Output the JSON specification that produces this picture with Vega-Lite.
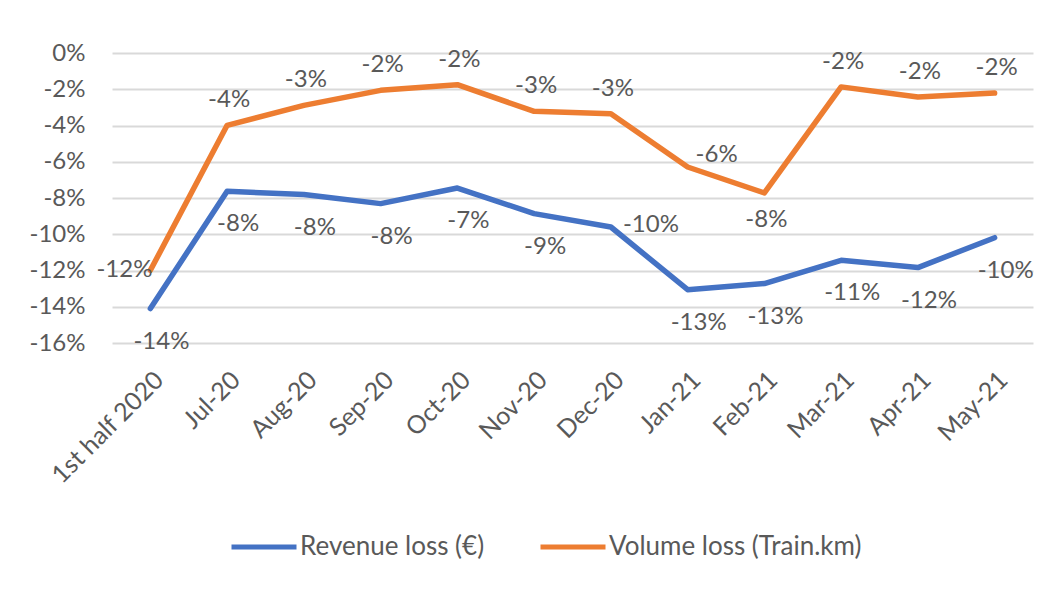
{
  "$schema": "https://vega.github.io/schema/vega-lite/v6.json",
  "autosize": {"type": "none"},
  "width": 921,
  "height": 290,
  "padding": {"left": 112, "top": 53, "right": 17, "bottom": 249},
  "background": "white",
  "config": {
    "font": "Lato",
    "locale": {"number": {"decimal": ".", "thousands": ",", "grouping": [3], "currency": ["", ""], "minus": "-"}},
    "view": {"stroke": null},
    "text": {"font": "Lato", "fontSize": 24, "color": "#595959"}
  },
  "data": {
    "values": [
      {"month": "1st half 2020", "series": "Revenue loss (€)", "value": -0.141},
      {"month": "Jul-20", "series": "Revenue loss (€)", "value": -0.0763},
      {"month": "Aug-20", "series": "Revenue loss (€)", "value": -0.0781},
      {"month": "Sep-20", "series": "Revenue loss (€)", "value": -0.0831},
      {"month": "Oct-20", "series": "Revenue loss (€)", "value": -0.0745},
      {"month": "Nov-20", "series": "Revenue loss (€)", "value": -0.0886},
      {"month": "Dec-20", "series": "Revenue loss (€)", "value": -0.096},
      {"month": "Jan-21", "series": "Revenue loss (€)", "value": -0.1306},
      {"month": "Feb-21", "series": "Revenue loss (€)", "value": -0.1272},
      {"month": "Mar-21", "series": "Revenue loss (€)", "value": -0.1144},
      {"month": "Apr-21", "series": "Revenue loss (€)", "value": -0.1184},
      {"month": "May-21", "series": "Revenue loss (€)", "value": -0.1019},
      {"month": "1st half 2020", "series": "Volume loss (Train.km)", "value": -0.1199},
      {"month": "Jul-20", "series": "Volume loss (Train.km)", "value": -0.0399},
      {"month": "Aug-20", "series": "Volume loss (Train.km)", "value": -0.0289},
      {"month": "Sep-20", "series": "Volume loss (Train.km)", "value": -0.0206},
      {"month": "Oct-20", "series": "Volume loss (Train.km)", "value": -0.0175},
      {"month": "Nov-20", "series": "Volume loss (Train.km)", "value": -0.0322},
      {"month": "Dec-20", "series": "Volume loss (Train.km)", "value": -0.0335},
      {"month": "Jan-21", "series": "Volume loss (Train.km)", "value": -0.0629},
      {"month": "Feb-21", "series": "Volume loss (Train.km)", "value": -0.0772},
      {"month": "Mar-21", "series": "Volume loss (Train.km)", "value": -0.0187},
      {"month": "Apr-21", "series": "Volume loss (Train.km)", "value": -0.0243},
      {"month": "May-21", "series": "Volume loss (Train.km)", "value": -0.0221}
    ]
  },
  "encoding": {
    "x": {
      "field": "month",
      "type": "ordinal",
      "sort": ["1st half 2020", "Jul-20", "Aug-20", "Sep-20", "Oct-20", "Nov-20", "Dec-20", "Jan-21", "Feb-21", "Mar-21", "Apr-21", "May-21"],
      "title": null,
      "axis": {
        "labelAngle": -45,
        "labelFontSize": 25,
        "labelColor": "#595959",
        "labelFont": "Lato",
        "ticks": false,
        "domain": false,
        "labelPadding": 24
      }
    },
    "y": {
      "field": "value",
      "type": "quantitative",
      "scale": {"domain": [-0.16, 0], "nice": false},
      "title": null,
      "axis": {
        "values": [-0.16, -0.14, -0.12, -0.1, -0.08, -0.06, -0.04, -0.02, 0],
        "format": ".0%",
        "labelFontSize": 24,
        "labelColor": "#595959",
        "labelFont": "Lato",
        "ticks": false,
        "domain": false,
        "labelPadding": 27,
        "gridColor": "#d9d9d9",
        "gridWidth": 2
      }
    }
  },
  "layer": [
    {
      "mark": {"type": "line", "strokeWidth": 5.5, "strokeJoin": "round", "strokeCap": "round"},
      "encoding": {
        "color": {
          "field": "series",
          "type": "nominal",
          "scale": {"domain": ["Revenue loss (€)", "Volume loss (Train.km)"], "range": ["#4472C4", "#ED7D31"]},
          "legend": {
            "title": null,
            "orient": "none",
            "direction": "horizontal",
            "legendX": 117,
            "legendY": 459,
            "symbolType": "stroke",
            "symbolSize": 4225,
            "symbolStrokeWidth": 5,
            "labelFontSize": 26,
            "labelColor": "#595959",
            "labelFont": "Lato",
            "labelOffset": 1,
            "labelLimit": 0,
            "columnPadding": 45
          }
        }
      }
    },
    {
      "transform": [{"filter": "datum.series == 'Volume loss (Train.km)' && indexof(['1st half 2020','Jan-21','Feb-21'], datum.month) < 0"}],
      "mark": {"type": "text", "dy": -25, "dx": 2, "baseline": "middle"},
      "encoding": {"text": {"field": "value", "type": "quantitative", "format": ".0%"}}
    },
    {
      "transform": [{"filter": "datum.series == 'Volume loss (Train.km)' && datum.month == '1st half 2020'"}],
      "mark": {"type": "text", "align": "right", "dx": 2, "dy": 0, "baseline": "middle"},
      "encoding": {"text": {"field": "value", "type": "quantitative", "format": ".0%"}}
    },
    {
      "transform": [{"filter": "datum.series == 'Volume loss (Train.km)' && datum.month == 'Jan-21'"}],
      "mark": {"type": "text", "dx": 29, "dy": -12, "baseline": "middle"},
      "encoding": {"text": {"field": "value", "type": "quantitative", "format": ".0%"}}
    },
    {
      "transform": [{"filter": "datum.series == 'Volume loss (Train.km)' && datum.month == 'Feb-21'"}],
      "mark": {"type": "text", "dx": 2, "dy": 27, "baseline": "middle"},
      "encoding": {"text": {"field": "value", "type": "quantitative", "format": ".0%"}}
    },
    {
      "transform": [{"filter": "datum.series == 'Revenue loss (€)' && datum.month != 'Dec-20'"}],
      "mark": {"type": "text", "dx": 11, "dy": 33, "baseline": "middle"},
      "encoding": {"text": {"field": "value", "type": "quantitative", "format": ".0%"}}
    },
    {
      "transform": [{"filter": "datum.series == 'Revenue loss (€)' && datum.month == 'Dec-20'"}],
      "mark": {"type": "text", "align": "left", "dx": 12, "dy": -2, "baseline": "middle"},
      "encoding": {"text": {"field": "value", "type": "quantitative", "format": ".0%"}}
    }
  ]
}
